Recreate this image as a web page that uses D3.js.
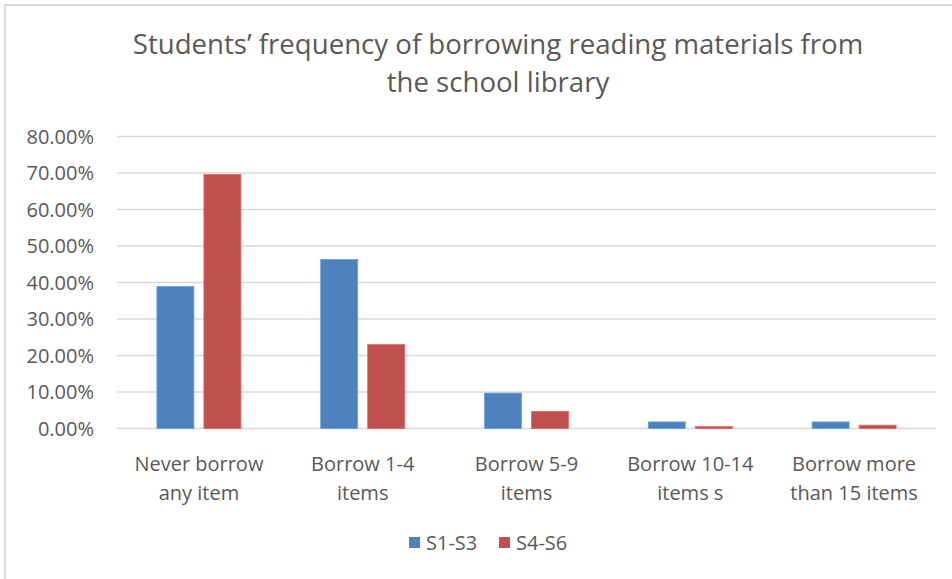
<!DOCTYPE html>
<html>
<head>
<meta charset="utf-8">
<script src="https://cdn.jsdelivr.net/npm/d3@7"></script>
<style>
  body { margin: 0; background: #fff; }
  text { font-family: "Open Sans", "Noto Sans", sans-serif; fill: #595959; }
</style>
</head>
<body>
<div id="chart"></div>
<script>
// Chart data
const categories = ["Never borrow\nany item", "Borrow 1-4\nitems", "Borrow 5-9\nitems",
                    "Borrow 10-14\nitems s", "Borrow more\nthan 15 items"];
const seriesNames = ["S1-S3", "S4-S6"];
const s1s3 = [0.389, 0.463, 0.097, 0.018, 0.018];
const s4s6 = [0.696, 0.230, 0.047, 0.005, 0.009];
const yTicks = [0, 0.1, 0.2, 0.3, 0.4, 0.5, 0.6, 0.7, 0.8];
const titleLines = ["Students\u2019 frequency of borrowing reading materials from", "the school library"];

const width = 952,
      height = 579;

const colors = ["#4f81bd", "#c0504d"];

const svg = d3.select("#chart")
  .append("svg")
    .attr("width", width)
    .attr("height", height);

// Chart area border
svg.append("rect")
    .attr("x", 5)
    .attr("y", 5)
    .attr("width", 980)
    .attr("height", 620)
    .attr("fill", "#fff")
    .attr("stroke", "#d9d9d9")
    .attr("stroke-width", 2);

// Scales
const x = d3.scaleBand()
    .domain(categories)
    .range([117, 936]);

const xSeries = d3.scaleBand()
    .domain(seriesNames)
    .range([-42, 42])
    .paddingInner(0.213);

const y = d3.scaleLinear()
    .domain([0, 0.8])
    .range([428.5, 136.5]);

// Title
svg.append("g")
    .attr("text-anchor", "middle")
  .selectAll("text")
  .data(titleLines)
  .enter()
  .append("text")
    .attr("x", 498)
    .attr("y", (d, i) => 54 + i * 38)
    .style("font-size", "27.6px")
    .text(d => d);

// Gridlines
svg.append("g")
  .selectAll("line")
  .data(yTicks)
  .enter()
  .append("line")
    .attr("x1", 117)
    .attr("x2", 936)
    .attr("y1", d => y(d))
    .attr("y2", d => y(d))
    .attr("stroke", "#d9d9d9")
    .attr("stroke-width", 1.5);

// Y axis labels
svg.append("g")
    .attr("text-anchor", "end")
  .selectAll("text")
  .data(yTicks)
  .enter()
  .append("text")
    .attr("x", 94)
    .attr("y", d => y(d))
    .attr("dy", "0.36em")
    .style("font-size", "20px")
    .text(d => d3.format(".2%")(d));

// Bars
const series = [s1s3, s4s6];
const barG = svg.append("g");
series.forEach((vals, si) => {
  barG.append("g")
    .selectAll("rect")
    .data(vals)
    .enter()
    .append("rect")
      .attr("x", (d, i) => x(categories[i]) + x.bandwidth() / 2 + xSeries(seriesNames[si]))
      .attr("y", d => y(d))
      .attr("width", xSeries.bandwidth())
      .attr("height", d => y(0) - y(d))
      .attr("fill", colors[si])
      .attr("stroke", d3.color(colors[si]).brighter(0.6))
      .attr("stroke-width", 0.8);
});

// Category labels
const catG = svg.append("g")
    .attr("text-anchor", "middle")
  .selectAll("text")
  .data(categories)
  .enter()
  .append("text")
    .attr("x", d => x(d) + x.bandwidth() / 2)
    .attr("y", 471)
    .style("font-size", "20px");

catG.selectAll("tspan")
  .data(d => d.split("\n"))
  .enter()
  .append("tspan")
    .attr("x", function() { return d3.select(this.parentNode).attr("x"); })
    .attr("dy", (d, i) => i === 0 ? 0 : 29)
    .text(d => d);

// Legend
const legendX = [409, 499];
const legend = svg.append("g")
  .selectAll("g")
  .data(seriesNames)
  .enter()
  .append("g")
    .attr("transform", (d, i) => `translate(${legendX[i]}, 537)`);

legend.append("rect")
    .attr("width", 11)
    .attr("height", 11)
    .attr("fill", (d, i) => colors[i]);

legend.append("text")
    .attr("x", 17)
    .attr("y", 5.5)
    .attr("dy", "0.36em")
    .style("font-size", "20px")
    .text(d => d);
</script>
</body>
</html>
